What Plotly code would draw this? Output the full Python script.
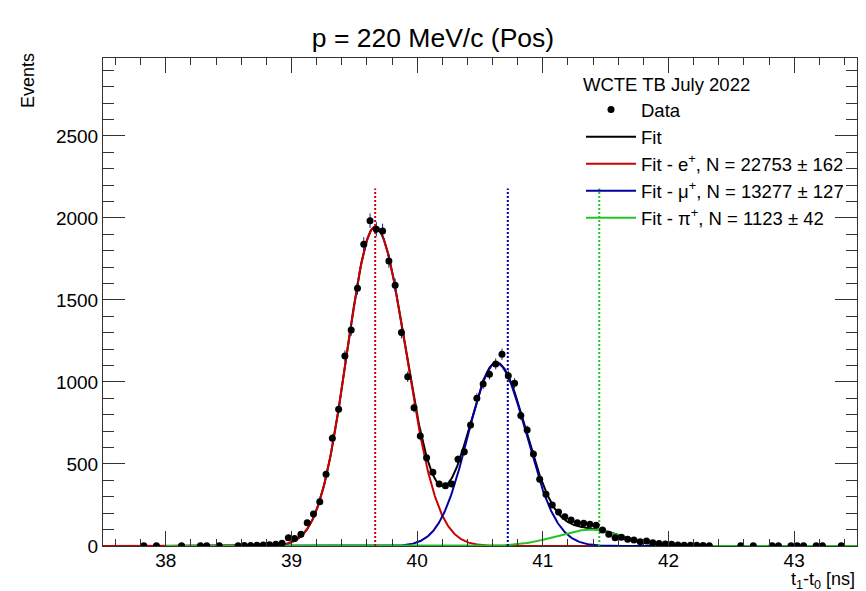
import numpy as np
import plotly.graph_objects as go

# ---------------- data ----------------
bin_centers = [37.825, 37.925, 38.125, 38.275, 38.325, 38.425,
               38.575, 38.625, 38.675, 38.725, 38.775, 38.825, 38.875, 38.925,
               38.975, 39.025, 39.075, 39.125, 39.175, 39.225, 39.275, 39.325,
               39.375, 39.425, 39.475, 39.525, 39.575, 39.625, 39.675, 39.725,
               39.775, 39.825, 39.875, 39.925, 39.975, 40.025, 40.075, 40.125,
               40.175, 40.225, 40.275, 40.325, 40.375, 40.425, 40.475, 40.525,
               40.575, 40.625, 40.675, 40.725, 40.775, 40.825, 40.875, 40.925,
               40.975, 41.025, 41.075, 41.125, 41.175, 41.225, 41.275, 41.325,
               41.375, 41.425, 41.475, 41.525, 41.575, 41.625, 41.675, 41.725,
               41.775, 41.825, 41.875, 41.925, 41.975, 42.025, 42.075, 42.125,
               42.175, 42.225, 42.275, 42.325, 42.575, 42.675, 42.825, 42.875,
               42.975, 43.025, 43.075, 43.175, 43.225, 43.375]
counts = [1, 1, 1, 1, 1, 1,
          2, 3, 3, 4, 6, 7, 10, 17,
          50, 46, 72, 142, 195, 270, 437, 657,
          834, 1159, 1317, 1571, 1840, 1983, 1931, 1921,
          1738, 1590, 1301, 1032, 843, 671, 538, 449,
          378, 368, 378, 529, 575, 738, 900, 988,
          1047, 1110, 1169, 1038, 992, 795, 707, 561,
          407, 315, 250, 208, 179, 159, 142, 138,
          132, 126, 98, 71, 51, 53, 41, 37,
          26, 30, 20, 16, 12, 10, 6, 5,
          5, 4, 3, 2, 1, 1, 1, 1,
          1, 1, 1, 1, 1, 1]

# fit components: name, colour, amplitude, mean, sigma_left, sigma_right, x-range
comp_names = ["Fit - e<sup>+</sup>, N = 22753 ± 162",
              "Fit - μ<sup>+</sup>, N = 13277 ± 127",
              "Fit - π<sup>+</sup>, N = 1123 ± 42"]
comp_colors = ["#cc0000", "#0000a0", "#22c422"]
comp_amp = [1945, 1115, 100]
comp_mean = [39.665, 40.63, 41.39]
comp_sig_left = [0.223, 0.225, 0.28]
comp_sig_right = [0.247, 0.24, 0.23]
comp_xmin = [37.5, 38.0, 38.0]
comp_xmax = [43.5, 43.5, 43.5]

# expected-position markers (dotted lines)
marker_pos = [39.666, 40.721, 41.449]
marker_top = 2180

title_text = "p = 220 MeV/c (Pos)"
legend_title = "WCTE TB July 2022"
x_range = [37.5, 43.5]
y_range = [0, 2975]

FONT = "Liberation Sans, Arial, Helvetica, sans-serif"


def bifur_gauss(x, a, mu, sl, sr):
    s = np.where(x < mu, sl, sr)
    return a * np.exp(-0.5 * ((x - mu) / s) ** 2)


fig = go.Figure()

# total fit (drawn first, under the components)
xf = np.linspace(38.0, 43.5, 1201)
total = np.zeros_like(xf)
for i in range(3):
    total += bifur_gauss(xf, comp_amp[i], comp_mean[i], comp_sig_left[i], comp_sig_right[i])
fig.add_trace(go.Scatter(x=xf, y=total, mode="lines", name="Fit",
                         line=dict(color="black", width=2), legendrank=2))

for i in range(3):
    xc = np.linspace(comp_xmin[i], comp_xmax[i], 1201)
    yc = bifur_gauss(xc, comp_amp[i], comp_mean[i], comp_sig_left[i], comp_sig_right[i])
    fig.add_trace(go.Scatter(x=xc, y=yc, mode="lines", name=comp_names[i],
                             line=dict(color=comp_colors[i], width=2),
                             legendrank=3 + i))

for i in range(3):
    fig.add_trace(go.Scatter(x=[marker_pos[i], marker_pos[i]], y=[0, marker_top],
                             mode="lines", showlegend=False,
                             line=dict(color=comp_colors[i], width=2, dash="2px,2px")))

fig.add_trace(go.Scatter(
    x=bin_centers, y=counts, mode="markers", name="Data",
    marker=dict(color="black", size=7),
    error_y=dict(type="data", array=np.sqrt(np.array(counts, dtype=float)),
                 color="#1c1c78", thickness=1, width=0),
    legendrank=1))

axis_common = dict(showline=True, linecolor="#333", linewidth=1, mirror="ticks",
                   ticks="inside", tickcolor="#333", showgrid=False, zeroline=False,
                   tickfont=dict(family=FONT, size=19, color="black"))

fig.update_xaxes(range=x_range, tick0=38, dtick=1, ticklen=15, ticklabelstandoff=-3,
                 minor=dict(dtick=0.2, ticklen=7, ticks="inside", tickcolor="#333"),
                 **axis_common)
fig.update_yaxes(range=y_range, tick0=0, dtick=500, ticklen=22,
                 minor=dict(dtick=100, ticklen=11, ticks="inside", tickcolor="#333"),
                 **axis_common)

W, H = 866, 591
L, R, T, B = 103, 9, 58, 45
pw, ph = W - L - R, H - T - B

fig.update_layout(
    width=W, height=H,
    margin=dict(l=L, r=R, t=T, b=B),
    paper_bgcolor="white", plot_bgcolor="white",
    title=dict(text=title_text, x=0.5, xref="container", xanchor="center",
               y=1 - 38 / H, yref="container", yanchor="middle",
               font=dict(family=FONT, size=26.5, color="black")),
    showlegend=True,
    legend=dict(x=(581 - L) / pw, y=(H - B - 67) / ph, xanchor="left", yanchor="top",
                bgcolor="rgba(0,0,0,0)", borderwidth=0,
                font=dict(family=FONT, size=18.5, color="black"),
                title=dict(text=legend_title, font=dict(family=FONT, size=18.5, color="black")),
                itemwidth=50),
    annotations=[
        dict(text="Events", textangle=-90, x=(28 - L) / pw, y=(H - B - 81) / ph,
             xref="paper", yref="paper", xanchor="center", yanchor="middle",
             showarrow=False, font=dict(family=FONT, size=18, color="black")),
        dict(text="t<sub>1</sub>-t<sub>0</sub> [ns]", x=(857 - L) / pw, xref="paper",
             xanchor="right", y=(H - B - 580) / ph, yref="paper", yanchor="middle",
             showarrow=False, font=dict(family=FONT, size=18, color="black")),
    ],
)

fig.write_html("out.html")
